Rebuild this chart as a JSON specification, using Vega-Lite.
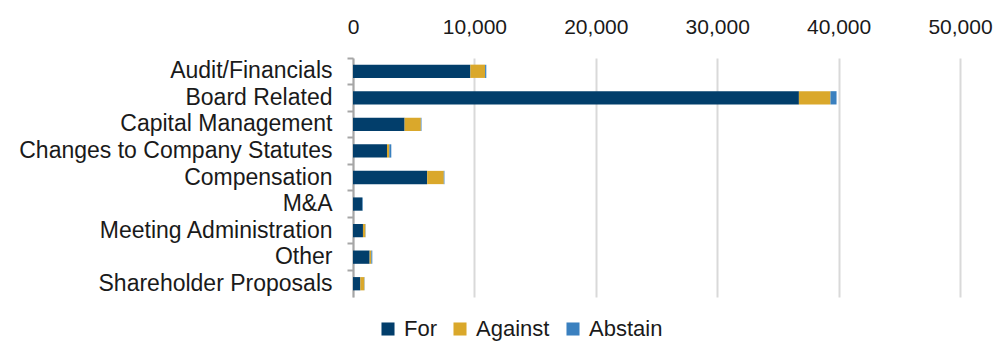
{
  "$schema": "https://vega.github.io/schema/vega-lite/v6.json",
  "width": 607,
  "height": 239,
  "autosize": {"type": "none"},
  "padding": {"left": 353, "top": 58, "right": 41, "bottom": 44},
  "background": "white",
  "config": {
    "view": {"stroke": null},
    "font": "Liberation Sans",
    "axis": {"labelFont": "Liberation Sans", "labelColor": "#1a1a1a", "labelFontSize": 20}
  },
  "data": {
    "values": [
      {"category": "Audit/Financials", "vote": "For", "count": 9670},
      {"category": "Audit/Financials", "vote": "Against", "count": 1210},
      {"category": "Audit/Financials", "vote": "Abstain", "count": 100},
      {"category": "Board Related", "vote": "For", "count": 36730},
      {"category": "Board Related", "vote": "Against", "count": 2600},
      {"category": "Board Related", "vote": "Abstain", "count": 500},
      {"category": "Capital Management", "vote": "For", "count": 4250},
      {"category": "Capital Management", "vote": "Against", "count": 1340},
      {"category": "Capital Management", "vote": "Abstain", "count": 50},
      {"category": "Changes to Company Statutes", "vote": "For", "count": 2800},
      {"category": "Changes to Company Statutes", "vote": "Against", "count": 190},
      {"category": "Changes to Company Statutes", "vote": "Abstain", "count": 165},
      {"category": "Compensation", "vote": "For", "count": 6110},
      {"category": "Compensation", "vote": "Against", "count": 1370},
      {"category": "Compensation", "vote": "Abstain", "count": 50},
      {"category": "M&A", "vote": "For", "count": 740},
      {"category": "M&A", "vote": "Against", "count": 20},
      {"category": "M&A", "vote": "Abstain", "count": 60},
      {"category": "Meeting Administration", "vote": "For", "count": 820},
      {"category": "Meeting Administration", "vote": "Against", "count": 200},
      {"category": "Meeting Administration", "vote": "Abstain", "count": 20},
      {"category": "Other", "vote": "For", "count": 1370},
      {"category": "Other", "vote": "Against", "count": 140},
      {"category": "Other", "vote": "Abstain", "count": 80},
      {"category": "Shareholder Proposals", "vote": "For", "count": 605},
      {"category": "Shareholder Proposals", "vote": "Against", "count": 330},
      {"category": "Shareholder Proposals", "vote": "Abstain", "count": 20}
    ]
  },
  "transform": [
    {"calculate": "indexof(['For','Against','Abstain'], datum.vote)", "as": "stackOrder"}
  ],
  "mark": {"type": "bar", "height": {"band": 0.5}},
  "encoding": {
    "y": {
      "field": "category",
      "type": "nominal",
      "sort": null,
      "scale": {"paddingInner": 0, "paddingOuter": 0},
      "axis": {
        "title": null,
        "bandPosition": 0,
        "domainColor": "#a6a6a6",
        "domainWidth": 2,
        "tickColor": "#a6a6a6",
        "tickWidth": 2,
        "tickSize": 6,
        "labelPadding": 15,
        "labelAlign": "right",
        "labelBaseline": "middle",
        "labelFontSize": 23,
        "labelLimit": 400
      }
    },
    "x": {
      "field": "count",
      "type": "quantitative",
      "aggregate": "sum",
      "stack": "zero",
      "scale": {"domain": [0, 50000], "nice": false},
      "axis": {
        "orient": "top",
        "title": null,
        "values": [0, 10000, 20000, 30000, 40000, 50000],
        "format": ",d",
        "domain": false,
        "ticks": false,
        "labelPadding": 21,
        "labelFontSize": 21,
        "gridColor": "#d9d9d9",
        "gridWidth": 2,
        "labelFlush": false
      }
    },
    "color": {
      "field": "vote",
      "type": "nominal",
      "scale": {"domain": ["For", "Against", "Abstain"], "range": ["#023e6b", "#daa82b", "#3a80bf"]},
      "legend": {
        "title": null,
        "orient": "none",
        "direction": "horizontal",
        "legendX": 24,
        "legendY": 260,
        "symbolType": "square",
        "symbolSize": 170,
        "symbolStrokeWidth": 0,
        "symbolOpacity": 1,
        "labelFontSize": 22,
        "labelColor": "#1a1a1a",
        "labelFont": "Liberation Sans",
        "columnPadding": 12,
        "labelOffset": 5
      }
    },
    "order": {"field": "stackOrder", "type": "quantitative"}
  }
}
